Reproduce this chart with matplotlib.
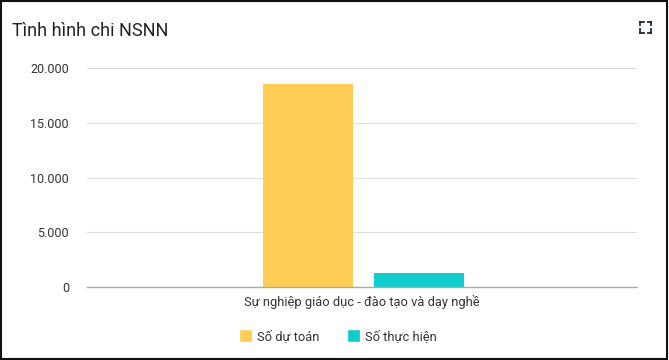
import matplotlib.pyplot as plt
from matplotlib.lines import Line2D
from matplotlib.patches import Rectangle

plt.rcParams['font.family'] = ['Roboto', 'DejaVu Sans']

categories = ["Sự nghiệp giáo dục - đào tạo và dạy nghề"]
series_names = ["Số dự toán", "Số thực hiện"]
series_values = [[18540], [1320]]
series_colors = ["#FFCD56", "#10CCCC"]
y_ticks = [0, 5000, 10000, 15000, 20000]
y_tick_labels = ["0", "5.000", "10.000", "15.000", "20.000"]

fig = plt.figure(figsize=(6.69, 3.6), dpi=100)
ax = fig.add_axes([87 / 669, 1 - 287 / 360, 550 / 669, 219 / 360])

width = 0.164
offsets = [-0.098, 0.104]
for name, vals, col, off in zip(series_names, series_values, series_colors, offsets):
    xs = [i + off for i in range(len(categories))]
    ax.bar(xs, vals, width=width, color=col, label=name, zorder=2)

ax.set_xlim(-0.5, len(categories) - 0.5)
ax.set_ylim(0, 20000)
ax.set_yticks(y_ticks)
ax.set_yticklabels(y_tick_labels)
ax.set_xticks(range(len(categories)))
ax.set_xticklabels(categories)
ax.tick_params(length=0, labelsize=9, colors="#333333")
ax.tick_params(axis="x", labelsize=9.3, pad=6)
ax.tick_params(axis="y", pad=13)
ax.grid(axis="y", color="#dddddd", linewidth=0.8, zorder=0)
for s in ["top", "right", "left"]:
    ax.spines[s].set_visible(False)
ax.spines["bottom"].set_color("#aaaaaa")
ax.spines["bottom"].set_linewidth(1.0)

handles = [Line2D([], [], marker="s", linestyle="none", markersize=7.5,
                  markerfacecolor=c, markeredgecolor=c, markeredgewidth=1.2,
                  solid_joinstyle="round") for c in series_colors]
fig.legend(handles, series_names, loc="center", bbox_to_anchor=(0.502, 1 - 337 / 360),
           ncol=2, frameon=False, fontsize=9.3, handletextpad=0.05, columnspacing=1.9,
           handlelength=1.6, labelcolor="#333333")

fig.text(12 / 669, 1 - 31 / 360, "Tình hình chi NSNN", fontsize=13,
         color="#222222", va="center", ha="left")

# expand icon top right
icon = "#1e2a3a"
cx, cy, h, a = 645.5, 27, 5.5, 3.5
for sx in (-1, 1):
    for sy in (-1, 1):
        x0, y0 = cx + sx * h, cy + sy * h
        fig.add_artist(Line2D([x0 / 669, (x0 - sx * a) / 669], [1 - y0 / 360, 1 - y0 / 360],
                              color=icon, linewidth=1.3))
        fig.add_artist(Line2D([x0 / 669, x0 / 669], [1 - y0 / 360, 1 - (y0 - sy * a) / 360],
                              color=icon, linewidth=1.3))

fig.add_artist(Rectangle((0.001, 0.002), 0.996, 0.995, transform=fig.transFigure,
                         fill=False, edgecolor="#111111", linewidth=1.5))

fig.savefig("out.png", dpi=100)
